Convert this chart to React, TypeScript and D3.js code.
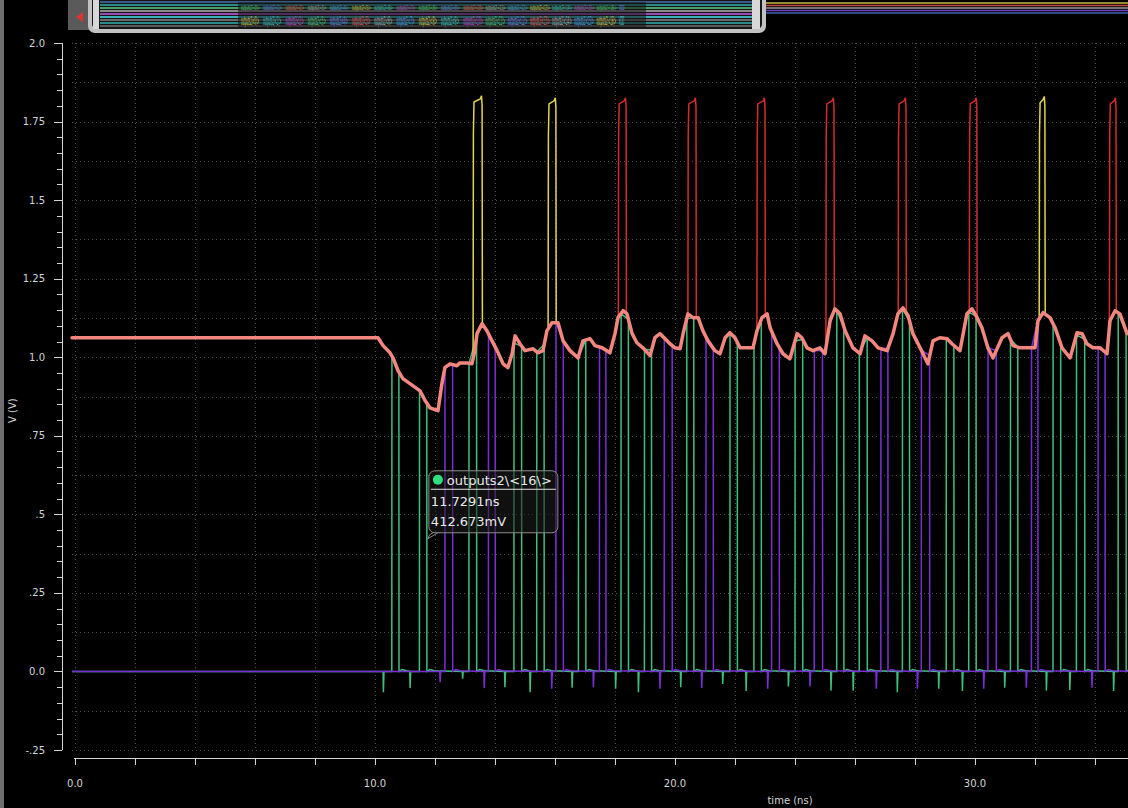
import React from "react";
import * as d3 from "d3";

const WIDTH = 1128;
const HEIGHT = 808;

// Supply rail seen by the output drivers (ns, V)
const supplyTimes = [
  0, 10.1, 10.27, 10.5, 10.6, 10.77, 10.93, 11.27, 11.5, 11.67, 11.83, 12.1, 12.23, 12.33, 12.5, 12.73, 12.83,
  13.07, 13.23, 13.33, 13.4, 13.57, 13.73, 13.9, 14.07, 14.27, 14.43, 14.57, 14.67, 14.83, 15.0, 15.27, 15.43,
  15.6, 15.73, 15.9, 16.1, 16.27, 16.5, 16.77, 16.93, 17.17, 17.33, 17.57, 17.83, 18.0, 18.1, 18.27, 18.4,
  18.57, 18.73, 18.93, 19.17, 19.33, 19.5, 19.67, 19.83, 20.0, 20.17, 20.27, 20.43, 20.6, 20.77, 20.93, 21.1,
  21.33, 21.5, 21.67, 21.83, 22.0, 22.17, 22.6, 22.73, 22.9, 23.07, 23.17, 23.4, 23.6, 23.83, 24.07, 24.23,
  24.4, 24.6, 24.83, 25.0, 25.17, 25.33, 25.5, 25.67, 25.93, 26.17, 26.33, 26.57, 26.77, 27.07, 27.27, 27.43,
  27.6, 27.77, 27.93, 28.17, 28.43, 28.6, 28.83, 29.07, 29.23, 29.5, 29.73, 29.9, 30.07, 30.23, 30.43, 30.6,
  30.9, 31.1, 31.27, 31.5, 32.0, 32.1, 32.27, 32.5, 32.67, 32.9, 33.17, 33.4, 33.57, 33.73, 33.93, 34.17,
  34.4, 34.5, 34.67, 34.83, 35.07,
];
const supplyVolts = [
  1.062, 1.062, 1.037, 1.014, 0.998, 0.957, 0.932, 0.909, 0.893, 0.862, 0.839, 0.83, 0.916, 0.967, 0.979, 0.973, 0.982,
  0.982, 0.979, 1.021, 1.075, 1.107, 1.084, 1.052, 1.021, 0.979, 0.967, 1.011, 1.068, 1.043, 1.021, 1.027, 1.014,
  1.021, 1.084, 1.11, 1.11, 1.052, 1.021, 0.998, 1.052, 1.059, 1.037, 1.03, 1.014, 1.075, 1.126, 1.148, 1.138,
  1.075, 1.046, 1.03, 1.005, 1.062, 1.075, 1.059, 1.043, 1.03, 1.027, 1.075, 1.138, 1.126, 1.126, 1.084, 1.052,
  1.021, 1.011, 1.062, 1.078, 1.062, 1.03, 1.03, 1.084, 1.126, 1.138, 1.094, 1.043, 1.011, 0.995, 1.075, 1.062,
  1.03, 1.021, 1.03, 1.011, 1.116, 1.154, 1.138, 1.084, 1.03, 1.011, 1.068, 1.052, 1.03, 1.021, 1.075, 1.138,
  1.157, 1.132, 1.075, 1.03, 0.979, 1.052, 1.062, 1.059, 1.043, 1.021, 1.138, 1.154, 1.126, 1.094, 1.03, 0.998,
  1.062, 1.075, 1.037, 1.03, 1.03, 1.116, 1.142, 1.126, 1.094, 1.03, 0.998, 1.078, 1.075, 1.043, 1.03, 1.03,
  1.011, 1.116, 1.148, 1.138, 1.075,
];

// Green output: pulse edges and the undershoot glitches that precede them (ns, V)
const greenRise = [10.56, 11.48, 13.13, 14.63, 15.39, 16.78, 18.2, 18.98, 20.39, 21.83, 22.63, 24.0, 25.39, 26.14, 27.58, 29.04, 29.79, 31.18, 32.6, 33.38, 34.77];
const greenFall = [10.8, 11.73, 13.39, 14.89, 15.64, 17.03, 18.45, 19.22, 20.63, 22.08, 22.88, 24.26, 25.63, 26.41, 27.82, 29.3, 30.04, 31.43, 32.86, 33.66, 35.04];
const greenDip = [10.28, 11.17, 12.92, 14.33, 15.17, 16.57, 18.02, 18.78, 20.19, 21.59, 22.37, 23.78, 25.2, 25.94, 27.41, 28.79, 29.58, 30.99, 32.38, 33.16, 34.62];
const greenDipDepth = [-0.066, -0.053, -0.023, -0.05, -0.066, -0.052, -0.055, -0.066, -0.05, -0.04, -0.062, -0.048, -0.061, -0.061, -0.066, -0.055, -0.062, -0.052, -0.061, -0.059, -0.062];

// Purple output
const purpleRise = [12.33, 13.78, 16.03, 17.48, 19.64, 21.03, 23.22, 24.64, 26.86, 28.21, 30.43, 31.88, 34.1];
const purpleFall = [12.59, 14.01, 16.28, 17.7, 19.91, 21.28, 23.48, 24.92, 27.1, 28.49, 30.71, 32.1, 34.34];
const purpleDip = [12.17, 13.64, 15.89, 17.28, 19.5, 20.89, 23.09, 24.5, 26.71, 28.08, 30.29, 31.71, 33.9];
const purpleDipDepth = [-0.034, -0.053, -0.055, -0.05, -0.055, -0.053, -0.055, -0.048, -0.055, -0.055, -0.055, -0.052, -0.052];

// Boosted strobe pulses riding on the rail
const strobeRise = [13.27, 15.77, 18.11, 20.43, 22.73, 25.03, 27.44, 29.81, 32.14, 34.48];
const strobeFall = [13.57, 16.03, 18.37, 20.7, 23.0, 25.3, 27.7, 30.06, 32.33, 34.7];
const strobeTop = [1.832, 1.826, 1.826, 1.826, 1.826, 1.826, 1.826, 1.826, 1.83, 1.826];
const strobeColor = ["#e0d64a", "#e0d64a", "#d42c2c", "#d42c2c", "#d42c2c", "#d42c2c", "#d42c2c", "#d42c2c", "#e0d64a", "#d42c2c"];

// Axis ticks
const yMajor = [-0.25, 0, 0.25, 0.5, 0.75, 1.0, 1.25, 1.5, 1.75, 2.0];
const yMajorLabels = ["-.25", "0.0", ".25", ".5", ".75", "1.0", "1.25", "1.5", "1.75", "2.0"];
const xMajor = [0, 10, 20, 30];
const xMajorLabels = ["0.0", "10.0", "20.0", "30.0"];

// Marker readout
const markerName = "outputs2\\<16\\>";
const markerTime = 11.7291;
const markerVolts = 0.412673;
const markerTimeLabel = "11.7291ns";
const markerVoltLabel = "412.673mV";

// Compressed legend strip along the top
const legendNames = [
  "outputs2\\<0\\>", "outputs2\\<1\\>", "outputs2\\<2\\>", "outputs2\\<3\\>", "outputs2\\<4\\>", "outputs2\\<5\\>",
  "outputs2\\<6\\>", "outputs2\\<7\\>", "outputs2\\<8\\>", "outputs2\\<9\\>", "outputs2\\<10\\>", "outputs2\\<11\\>",
  "outputs2\\<12\\>", "outputs2\\<13\\>", "outputs2\\<14\\>", "outputs2\\<15\\>", "outputs2\\<16\\>", "VDD",
];
const legendColors = ["#d8c848", "#40c8c8", "#c050d8", "#50c878", "#6a88e8", "#e06060", "#b0b0b0", "#48a8e8"];
const legendBands = ["#3a5a8a", "#2a8a8a", "#4aa06a", "#8a8a8a", "#9a4ab8", "#3ab0b8", "#6a6a6a", "#2a8a8a", "#5a5a5a"];
const topRightLines = ["#c8b840", "#c04848", "#9a9a9a", "#7040c0", "#4060b0"];

const x = d3.scaleLinear().domain([0, 35]).range([75, 1125]);
const y = d3.scaleLinear().domain([-0.25, 2.0]).range([750, 43]);

type Pt = [number, number];
const line = d3.line<Pt>().x((d) => x(d[0])).y((d) => y(d[1]));

function supplyAt(t: number): number {
  const i = d3.bisectRight(supplyTimes, t);
  if (i <= 0) return supplyVolts[0];
  if (i >= supplyTimes.length) return supplyVolts[supplyVolts.length - 1];
  const t0 = supplyTimes[i - 1];
  const t1 = supplyTimes[i];
  const k = (t - t0) / (t1 - t0);
  return supplyVolts[i - 1] + k * (supplyVolts[i] - supplyVolts[i - 1]);
}

function digitalTrace(rise: number[], fall: number[], dips: number[], depths: number[], end: number): Pt[] {
  const events: { t: number; kind: "dip" | "pulse"; i: number }[] = [];
  dips.forEach((t, i) => events.push({ t, kind: "dip", i }));
  rise.forEach((t, i) => events.push({ t, kind: "pulse", i }));
  events.sort((a, b) => a.t - b.t);
  const pts: Pt[] = [[-0.1, 0]];
  for (const e of events) {
    if (e.kind === "dip") {
      pts.push([e.t - 0.01, 0], [e.t, depths[e.i]], [e.t + 0.02, 0]);
    } else {
      const r = rise[e.i];
      const f = fall[e.i];
      pts.push([r, 0], [r + 0.004, supplyAt(r)], [f - 0.004, supplyAt(f)], [f, 0], [f + 0.1, 0.006], [f + 0.25, 0.002]);
    }
  }
  pts.push([end, 0]);
  return pts;
}

function strobePath(i: number): Pt[] {
  const r = strobeRise[i];
  const f = strobeFall[i];
  const top = strobeTop[i];
  return [
    [r, supplyAt(r)],
    [r + 0.01, top - 0.12],
    [r + 0.03, top - 0.02],
    [f - 0.06, top - 0.01],
    [f - 0.02, top],
    [f, top - 0.03],
    [f + 0.01, supplyAt(f)],
  ];
}

const supplyPts: Pt[] = [[-0.1, supplyVolts[0]] as Pt].concat(supplyTimes.map((t, i) => [t, supplyVolts[i]] as Pt));
const greenPts = digitalTrace(greenRise, greenFall, greenDip, greenDipDepth, 35.2);
const purplePts = digitalTrace(purpleRise, purpleFall, purpleDip, purpleDipDepth, 35.2);

const yMinor = d3.range(-0.25, 2.0001, 0.05);
const yGrid = d3.range(-0.25, 2.0001, 0.125);
const xMinor = d3.range(0, 35.01, 2);

const axisColor = "#d4d4d4";
const font = "DejaVu Sans, Verdana, sans-serif";

// Legend rows are laid out at natural size and squeezed horizontally into the strip
function LegendRow({ y0, size, slotW, colorShift }: { y0: number; size: number; slotW: number; colorShift: number }) {
  const sx = 400 / (slotW * legendNames.length);
  return (
    <g transform={`translate(241, ${y0}) scale(${sx}, 1)`}>
      {legendNames.map((n, i) => (
        <text
          key={n}
          x={i * slotW}
          y={0}
          fontSize={size}
          fontFamily={font}
          fill={legendColors[(i + colorShift) % legendColors.length]}
        >
          {n}
        </text>
      ))}
    </g>
  );
}

export default function App() {
  const yAxisX = 62;
  const xAxisY = 758;
  const ax = x(markerTime);
  const ay = y(markerVolts);

  return (
    <svg
      width={WIDTH}
      height={HEIGHT}
      style={{ position: "absolute", left: 0, top: 0, background: "#000", display: "block" }}
    >
      <rect x={0} y={0} width={WIDTH} height={HEIGHT} fill="#000" />
      <rect x={0} y={0} width={4} height={HEIGHT} fill="#6e6e6e" />

      {/* dotted grid */}
      <g stroke="#4c4c4c" strokeWidth={1} strokeDasharray="1,3">
        {yGrid.map((v, i) => (
          <line key={"gy" + i} x1={72} x2={WIDTH} y1={Math.round(y(v)) + 0.5} y2={Math.round(y(v)) + 0.5} />
        ))}
        {xMinor.map((t, i) => (
          <line key={"gx" + i} x1={Math.round(x(t)) + 0.5} x2={Math.round(x(t)) + 0.5} y1={y(2.0)} y2={y(-0.25)} />
        ))}
      </g>

      {/* output traces */}
      <path d={line(greenPts) || ""} fill="none" stroke="#3fbf7c" strokeWidth={1.5} />
      <path d={line(purplePts) || ""} fill="none" stroke="#7a2fd6" strokeWidth={1.5} />
      {strobeRise.map((_, i) => (
        <path key={"s" + i} d={line(strobePath(i)) || ""} fill="none" stroke={strobeColor[i]} strokeWidth={1.5} />
      ))}
      <path
        d={line(supplyPts) || ""}
        fill="none"
        stroke="#f2877f"
        strokeWidth={3.5}
        strokeLinejoin="round"
        strokeLinecap="round"
      />

      {/* y axis */}
      <g stroke={axisColor} strokeWidth={1}>
        <line x1={yAxisX + 0.5} x2={yAxisX + 0.5} y1={y(2.0)} y2={y(-0.25)} />
        {yMinor.map((v, i) => (
          <line key={"ym" + i} x1={yAxisX - 5} x2={yAxisX} y1={Math.round(y(v)) + 0.5} y2={Math.round(y(v)) + 0.5} />
        ))}
        {yMajor.map((v, i) => (
          <line key={"yM" + i} x1={yAxisX - 8} x2={yAxisX} y1={Math.round(y(v)) + 0.5} y2={Math.round(y(v)) + 0.5} />
        ))}
      </g>
      {yMajor.map((v, i) => (
        <text
          key={"yl" + i}
          x={45}
          y={y(v)}
          dy="0.35em"
          textAnchor="end"
          fill={axisColor}
          fontSize={10}
          fontFamily={font}
        >
          {yMajorLabels[i]}
        </text>
      ))}
      <text
        transform={`translate(16, ${y(0.83)}) rotate(-90)`}
        textAnchor="middle"
        fill={axisColor}
        fontSize={10}
        fontFamily={font}
      >
        V (V)
      </text>

      {/* x axis */}
      <g stroke={axisColor} strokeWidth={1}>
        <line x1={x(0) - 1} x2={WIDTH} y1={xAxisY + 0.5} y2={xAxisY + 0.5} />
        {xMinor.map((t, i) => (
          <line key={"xm" + i} x1={Math.round(x(t)) + 0.5} x2={Math.round(x(t)) + 0.5} y1={xAxisY} y2={xAxisY + 7} />
        ))}
      </g>
      {xMajor.map((t, i) => (
        <text
          key={"xl" + i}
          x={x(t)}
          y={787}
          textAnchor="middle"
          fill={axisColor}
          fontSize={10}
          fontFamily={font}
        >
          {xMajorLabels[i]}
        </text>
      ))}
      <text x={790} y={804} textAnchor="middle" fill={axisColor} fontSize={10} fontFamily={font}>
        time (ns)
      </text>

      {/* marker readout */}
      <g>
        <rect
          x={ax + 2}
          y={ay - 71}
          width={129}
          height={62}
          rx={6}
          fill="rgba(30,30,30,0.55)"
          stroke="#8c8c8c"
          strokeWidth={1}
        />
        <path d={`M ${ax + 6} ${ay - 9} Q ${ax + 2} ${ay - 8} ${ax + 1} ${ay - 3} L ${ax + 11} ${ay - 9}`} fill="none" stroke="#8c8c8c" strokeWidth={1} />
        <circle cx={ax + 11} cy={ay - 62} r={5} fill="#2fe07c" />
        <text x={ax + 20} y={ay - 57} fill="#e8e8e8" fontSize={13} fontFamily={font}>
          {markerName}
        </text>
        <line x1={ax + 4} x2={ax + 129} y1={ay - 52.5} y2={ay - 52.5} stroke="#e0e0e0" strokeWidth={1} />
        <text x={ax + 4} y={ay - 36} fill="#e8e8e8" fontSize={13} fontFamily={font}>
          {markerTimeLabel}
        </text>
        <text x={ax + 4} y={ay - 16} fill="#e8e8e8" fontSize={13} fontFamily={font}>
          {markerVoltLabel}
        </text>
      </g>

      {/* legend strip */}
      <g>
        <rect x={68} y={0} width={21} height={30} fill="#5a5a5a" />
        <polygon points="76,17 83,12 83,22" fill="#e03030" />
        <rect x={88} y={-8} width={678} height={41} rx={7} fill="#c2c2c2" />
        <rect x={92} y={-6} width={670} height={35} rx={5} fill="#161616" />
        {legendBands.map((c, i) => (
          <rect key={"lb" + i} x={100} y={1 + i * 3} width={652} height={2} fill={c} />
        ))}
        <rect x={93} y={0} width={6} height={29} fill="#d8d8d8" />
        <rect x={752} y={0} width={8} height={29} fill="#d8d8d8" />
        <rect x={238} y={2} width={408} height={26} fill="#141414" opacity={0.55} />
        <LegendRow y0={10} size={7} slotW={62} colorShift={3} />
        <LegendRow y0={25} size={12} slotW={110} colorShift={0} />
        {topRightLines.map((c, i) => (
          <line key={"tr" + i} x1={766} x2={WIDTH} y1={3 + i * 2.5} y2={3 + i * 2.5} stroke={c} strokeWidth={1.4} />
        ))}
      </g>
    </svg>
  );
}
